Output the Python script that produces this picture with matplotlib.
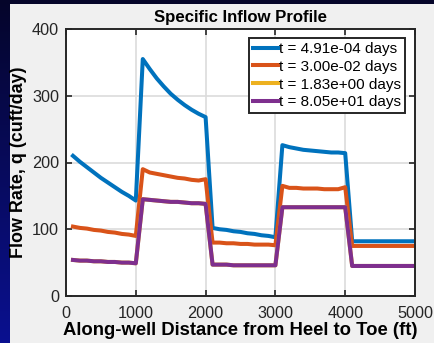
import numpy as np
import matplotlib.pyplot as plt
from matplotlib.patches import Rectangle

plt.rcParams['font.family'] = ['Liberation Sans', 'DejaVu Sans']

# distance along the well (ft)
dist = [100, 200, 300, 400, 500, 600, 700, 800, 900, 1000,
        1100, 1200, 1300, 1400, 1500, 1600, 1700, 1800, 1900, 2000,
        2100, 2200, 2300, 2400, 2500, 2600, 2700, 2800, 2900, 3000,
        3100, 3200, 3300, 3400, 3500, 3600, 3700, 3800, 3900, 4000,
        4100, 4200, 4300, 4400, 4500, 4600, 4700, 4800, 4900, 5000]

q_t1 = [210, 201, 193, 185, 177, 170, 163, 156, 150, 143,
        355, 340, 326, 314, 303, 294, 286, 279, 273, 268,
        102, 100, 99, 97, 96, 94, 93, 91, 90, 88,
        226, 223, 221, 219, 218, 217, 216, 215, 215, 214,
        82, 82, 82, 82, 82, 82, 82, 82, 82, 82]

q_t2 = [104, 102, 101, 99, 98, 96, 95, 93, 92, 90,
        190, 185, 183, 181, 179, 177, 176, 174, 173, 175,
        80, 80, 79, 79, 78, 78, 77, 77, 77, 76,
        165, 162, 162, 161, 161, 161, 160, 160, 160, 163,
        75, 75, 75, 75, 75, 75, 75, 75, 75, 75]

q_t3 = [54, 53, 53, 52, 52, 51, 51, 50, 50, 49,
        145, 144, 143, 142, 141, 141, 140, 139, 139, 138,
        47, 47, 47, 46, 46, 46, 46, 46, 46, 46,
        133, 133, 133, 133, 133, 133, 133, 133, 133, 133,
        45, 45, 45, 45, 45, 45, 45, 45, 45, 45]

q_t4 = q_t3

labels = ['t = 4.91e-04 days', 't = 3.00e-02 days',
          't = 1.83e+00 days', 't = 8.05e+01 days']
colors = ['#0072BD', '#D95319', '#EDB120', '#7E2F8E']

fig = plt.figure(figsize=(4.34, 3.43), dpi=100)

# slide background: dark blue gradient with grey figure panel
bg = fig.add_axes([0, 0, 1, 1], zorder=-10)
grad = np.linspace(0, 1, 256).reshape(-1, 1)
bg.imshow(grad, aspect='auto', extent=[0, 1, 0, 1], origin='upper',
          cmap=plt.matplotlib.colors.LinearSegmentedColormap.from_list(
              'slide', ['#05052a', '#0a1090']))
bg.add_patch(Rectangle((10 / 434, 0), 1, (343 - 3.5) / 343,
                       color='#f0f0f0', lw=0))
bg.set_xlim(0, 1)
bg.set_ylim(0, 1)
bg.axis('off')

ax = fig.add_axes([66 / 434, 47 / 343, 349 / 434, 267 / 343])
for q, lab, c in zip([q_t1, q_t2, q_t3, q_t4], labels, colors):
    ax.plot(dist, q, color=c, linewidth=2.9, label=lab)

ax.set_xlim(0, 5000)
ax.set_ylim(0, 400)
ax.set_xticks([0, 1000, 2000, 3000, 4000, 5000])
ax.set_yticks([0, 100, 200, 300, 400])
ax.grid(True, color='#dcdcdc', linewidth=1.2)
ax.set_axisbelow(True)
ax.tick_params(direction='in', top=True, right=True, length=4,
               width=1.2, colors='#262626', labelsize=11.7)
ax.tick_params(axis='x', pad=7)
ax.tick_params(axis='y', pad=5)
for s in ax.spines.values():
    s.set_color('#262626')
    s.set_linewidth(1.4)

ax.set_title('Specific Inflow Profile', fontsize=12.1, fontweight='bold',
             pad=5)
ax.set_xlabel('Along-well Distance from Heel to Toe (ft)', fontsize=13.3,
              fontweight='bold', labelpad=1)
ax.set_ylabel('Flow Rate, q (cuft/day)', fontsize=12.9, fontweight='bold')
ax.yaxis.set_label_coords(-0.113, 0.5)

leg = ax.legend(loc='upper right', bbox_to_anchor=(0.971, 0.966),
                fontsize=11, handlelength=1.6, handletextpad=0.1,
                borderpad=0.25, labelspacing=0.25, borderaxespad=0,
                fancybox=False, framealpha=1)
leg.get_frame().set_edgecolor('#262626')
leg.get_frame().set_linewidth(1.4)

plt.savefig('out.png', dpi=100)
